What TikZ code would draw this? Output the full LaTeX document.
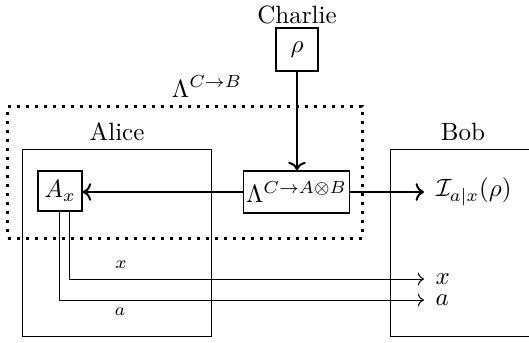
\documentclass[tikz,border=0pt]{standalone}
\usepackage{amsmath,amssymb}
\usetikzlibrary{positioning, calc, arrows.meta}

\tikzset{
  party/.style={draw, thin, minimum width=#1, minimum height=74.8pt},
  unit/.style={draw, semithick, inner sep=1pt},
  channel/.style={draw, line width=1.2pt, dash pattern=on 1.2pt off 2.4pt,
    minimum width=141.6pt, minimum height=52.8pt},
  flow/.style={->, thick},
  wire/.style={->, thin},
  outlbl/.style={right=3.5pt, inner sep=1pt}
}

\begin{document}
\begin{tikzpicture}[x=0.4pt, y=-0.4pt]
        \clip (0,0) rectangle (529,342);

        % 1. Alice and Bob labs
        \node[party=75.2pt] (alice) at (117,242.5) {};
        \node[above=-0.5pt of alice] (alicelbl) {Alice};
        \node[party=57.6pt] (bob) at (463,242.5) {};
        \node[above=-0.5pt of bob] (boblbl) {Bob};

        % 2. The channel box (dotted) and its name
        \node[channel] (chan) at (185,172) {};
        \node[anchor=base] (chanlbl) at (207,97) {$\Lambda^{C\to B}$};

        % 3. Charlie's source
        \node[unit, minimum width=16.8pt, minimum height=17.2pt] (rho) at (297,49.5) {$\rho$};
        \node[above=0pt of rho, inner sep=1pt] (charlie) {Charlie};

        % 4. Broadcast map and Alice's measurement
        \node[unit, minimum width=40.4pt, minimum height=16.8pt] (lam) at (296.5,192) {$\Lambda^{C\to A\otimes B}$};
        \node[unit, minimum width=17.6pt, minimum height=16pt] (ax) at (60,191) {$A_x$};

        % 5. Quantum arrows
        \draw[flow] (rho.south) -- (rho.south |- lam.north);
        \draw[flow] (lam.west) -- (lam.west -| ax.east);
        \coordinate (bobin) at (424,192);
        \draw[flow] (lam.east) -- (bobin) node[outlbl] (bobstate) {$\mathcal{I}_{a|x}(\rho)$};

        % 6. Classical input x and outcome a
        \coordinate (xend) at (424,279);
        \coordinate (aend) at (424,300);
        \draw[wire] ([xshift=4pt]ax.south) |- (xend) node[outlbl] (xout) {$x$};
        \draw[wire] (ax.south) |- (aend) node[outlbl] (aout) {$a$};
        \node (xlbl) at (121,265) {\scriptsize $x$};
        \node (albl) at (120,312) {\scriptsize $a$};

    \end{tikzpicture}
\end{document}
